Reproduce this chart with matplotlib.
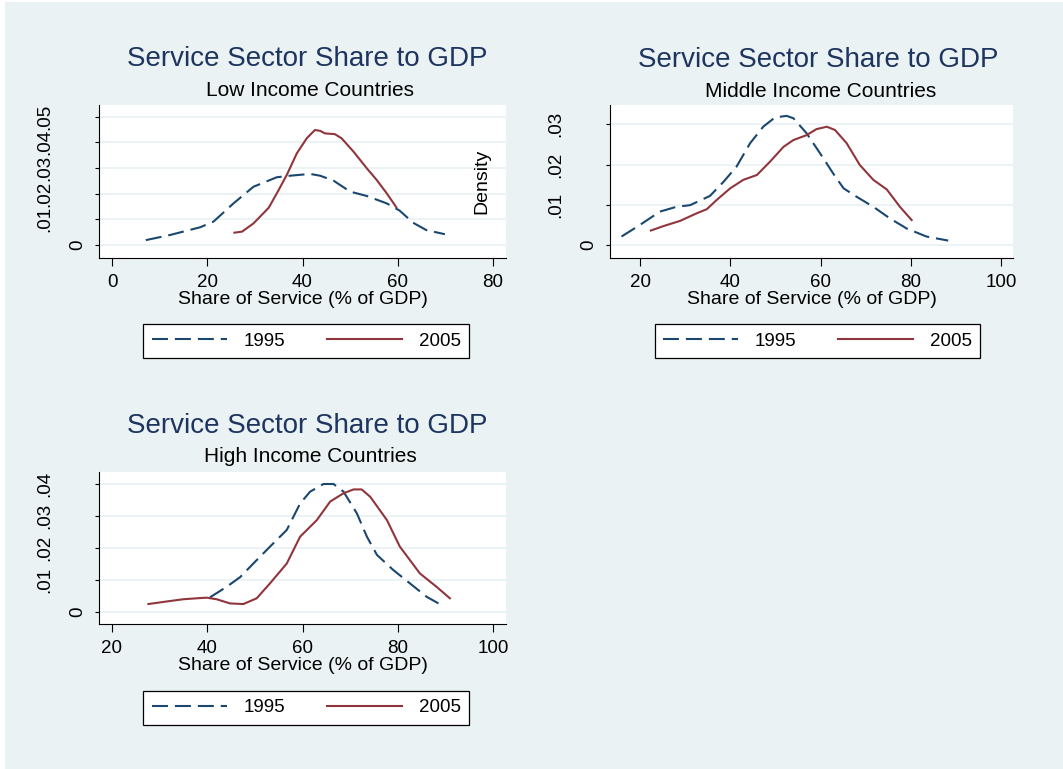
import matplotlib
matplotlib.use("Agg")
import matplotlib.pyplot as plt
from matplotlib.patches import Rectangle

plt.rcParams['font.family'] = ['Liberation Sans', 'DejaVu Sans']
plt.rcParams['lines.scale_dashes'] = False

# Kernel density estimates of service share (% of GDP), 1995 vs 2005
low_x_1995 = [7.1, 12.2, 18.5, 21.3, 25.5, 29.7, 34.6, 37.4, 41.6, 43.7, 46.5, 50.0, 53.5, 57.7, 60.4, 63.2, 66.0, 69.9]
low_y_1995 = [.0019, .0039, .0069, .0091, .0162, .0227, .0264, .0270, .0277, .0270, .0251, .0208, .0191, .0162, .0134, .0087, .0058, .0042]
low_x_2005 = [25.7, 27.3, 29.7, 32.9, 34.6, 36.7, 38.8, 40.9, 42.6, 43.7, 44.7, 46.8, 48.2, 50.7, 53.5, 55.6, 57.7, 59.7]
low_y_2005 = [.0048, .0052, .0084, .0145, .0201, .0273, .0357, .0416, .0448, .0445, .0435, .0432, .0416, .0364, .0299, .0253, .0201, .0147]

mid_x_1995 = [15.9, 20.0, 24.4, 28.1, 31.1, 35.5, 38.5, 41.4, 44.4, 47.3, 49.9, 52.5, 54.0, 56.9, 59.9, 62.8, 65.1, 68.0, 71.7, 75.4, 79.1, 83.5, 88.3]
mid_y_1995 = [.0021, .0050, .0083, .0095, .0099, .0122, .0157, .0195, .0253, .0294, .0317, .0321, .0315, .0278, .0228, .0178, .0141, .0120, .0095, .0066, .0041, .0021, .0011]
mid_x_2005 = [22.4, 25.2, 28.9, 32.6, 34.8, 37.0, 40.0, 42.9, 45.9, 48.8, 51.8, 54.0, 56.9, 59.1, 61.4, 63.2, 65.8, 68.7, 71.7, 74.7, 77.6, 80.2]
mid_y_2005 = [.0036, .0047, .0060, .0079, .0089, .0112, .0141, .0162, .0174, .0207, .0244, .0261, .0273, .0288, .0294, .0286, .0253, .0199, .0162, .0138, .0095, .0062]

high_x_1995 = [40.6, 44.1, 46.9, 49.7, 53.2, 56.7, 59.5, 61.6, 64.4, 66.5, 68.6, 71.4, 73.5, 75.6, 79.0, 82.5, 86.0, 88.5]
high_y_1995 = [.0045, .0078, .0108, .0151, .0204, .0256, .0339, .0376, .0400, .0400, .0376, .0308, .0235, .0178, .0131, .0089, .0047, .0026]
high_x_2005 = [27.7, 31.5, 35.0, 37.8, 39.9, 42.0, 44.8, 47.6, 50.4, 53.2, 56.7, 59.5, 63.0, 65.8, 68.6, 70.7, 72.4, 74.2, 77.7, 80.4, 84.6, 88.1, 90.9]
high_y_2005 = [.0024, .0032, .0039, .0042, .0044, .0039, .0026, .0024, .0042, .0089, .0151, .0235, .0287, .0345, .0371, .0383, .0383, .0360, .0287, .0204, .0120, .0078, .0042]

years = ['1995', '2005']
title = 'Service Sector Share to GDP'
subtitles = ['Low Income Countries', 'Middle Income Countries', 'High Income Countries']

BG = '#eaf2f3'
BLUE = '#1a476f'
RED = '#90353b'
W, H = 1063, 769


def px_box(left, top, right, bottom):
    return [left / W, 1 - bottom / H, (right - left) / W, (bottom - top) / H]


fig = plt.figure(figsize=(W / 100, H / 100), dpi=100)
fig.patch.set_facecolor('white')
fig.add_artist(Rectangle((5 / W, 0), 1, 1 - 2 / H, transform=fig.transFigure,
                         facecolor=BG, edgecolor='none', zorder=-1))


def panel(box, xs, ys, xlim, ylim, xticks, yticks, ylabels):
    ax = fig.add_axes(px_box(*box))
    ax.set_facecolor('white')
    ax.plot(xs[0], ys[0], color=BLUE, lw=1.5, dashes=(11.5, 5.0), label=years[0])
    ax.plot(xs[1], ys[1], color=RED, lw=1.5, label=years[1])
    ax.set_xlim(*xlim)
    ax.set_ylim(*ylim)
    for s in ['top', 'right']:
        ax.spines[s].set_visible(False)
    for s in ['left', 'bottom']:
        ax.spines[s].set_linewidth(0.8)
    ax.set_xticks(xticks)
    ax.set_yticks(yticks)
    ax.set_yticklabels(ylabels, rotation=90, va='center')
    ax.tick_params(axis='x', length=5.8, width=0.8, pad=6, labelsize=13.5)
    ax.tick_params(axis='y', length=2.9, width=0.8, labelsize=13.5)
    ax.grid(axis='y', color=BG, lw=1.3)
    ax.set_axisbelow(True)
    ax.set_xlabel('Share of Service (% of GDP)', fontsize=14, labelpad=0)
    # zero label sits closer to the axis than the others
    for i, t in enumerate(ax.yaxis.get_major_ticks()):
        t.set_pad(6.5 if i == 0 else 30)
    return ax


ax1 = panel((99, 105, 506, 258), (low_x_1995, low_x_2005), (low_y_1995, low_y_2005),
            (-2.73, 82.73), (-0.00507, 0.05456), [0, 20, 40, 60, 80],
            [0, .01, .02, .03, .04, .05], ['0', '.01', '.02', '.03', '.04', '.05'])
ax2 = panel((610, 105, 1013, 258), (mid_x_1995, mid_x_2005), (mid_y_1995, mid_y_2005),
            (13.35, 102.66), (-0.00323, 0.0348), [20, 40, 60, 80, 100],
            [0, .01, .02, .03], ['0', '.01', '.02', '.03'])
ax3 = panel((99, 472, 506, 624), (high_x_1995, high_x_2005), (high_y_1995, high_y_2005),
            (17.34, 102.66), (-0.00385, 0.04376), [20, 40, 60, 80, 100],
            [0, .01, .02, .03, .04], ['0', '.01', '.02', '.03', '.04'])

# y-axis title of the middle panel spills over the first panel
fig.text(482 / W, 1 - 181 / H, 'Density', rotation=90, ha='center', va='center', fontsize=14)

heads = [(307.5, 66, 309.5, 96), (818, 66.7, 821, 96.7), (307.5, 433, 310, 462)]
for (tx, ty, sx, sy), sub in zip(heads, subtitles):
    fig.text(tx / W, 1 - ty / H, title, ha='center', va='baseline', fontsize=20, color='#1e3560')
    fig.text(sx / W, 1 - sy / H, sub, ha='center', va='baseline', fontsize=15, color='black')

for ax, (cx, cy) in zip([ax1, ax2, ax3], [(306.2, 341.3), (817.3, 341.3), (306.2, 707.7)]):
    h, l = ax.get_legend_handles_labels()
    leg = fig.legend(h, l, loc='center', bbox_to_anchor=(cx / W, 1 - cy / H), ncol=2,
                     fontsize=13.5, handlelength=4.0, handletextpad=0.9, columnspacing=2.2,
                     borderpad=0.45, fancybox=False, framealpha=1, edgecolor='black')
    leg.get_frame().set_linewidth(0.9)

fig.savefig('out.png', dpi=100, facecolor=fig.get_facecolor())
